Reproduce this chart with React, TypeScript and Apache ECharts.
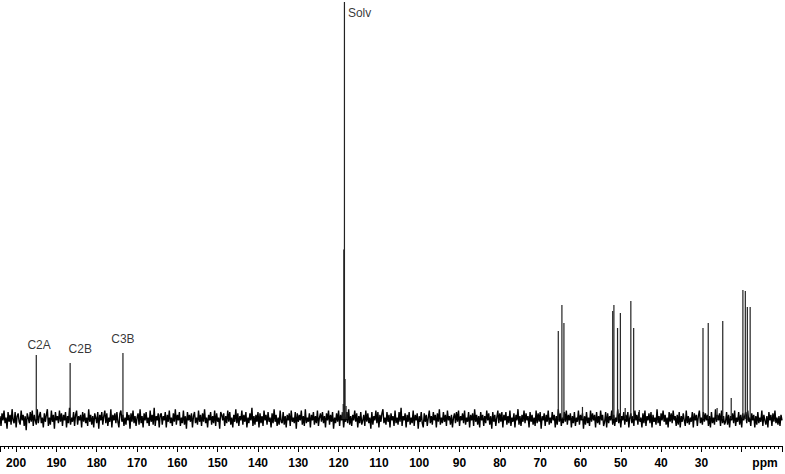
import React, { useEffect, useRef } from "react";
import * as echarts from "echarts";

// Baseline noise samples (intensity units), read along the spectrum from 204 ppm downwards
const NOISE_START_PPM = 204;
const NOISE_STEP_PPM = 0.25;
const noiseValues = [
  2,-5,4,-1,6,-3,1,-7,5,-2,3,-4,7,-1,-3,5,-6,2,4,-2,
  -4,6,-1,3,-5,2,-8,4,1,-3,5,-2,6,-5,3,-1,-4,7,-3,2,
  5,-3,1,-6,4,-2,3,7,-5,1,-4,6,-2,3,-7,5,-1,2,-3,6,
  -2,4,-5,3,-1,5,-6,2,-3,8,-4,1,-2,5,-5,3,6,-4,2,-1,
  3,-6,5,-2,4,-3,1,-5,7,-2,3,-4,2,-6,4,1,-3,5,-7,3,
  -1,5,-4,2,6,-3,4,-5,1,-2,7,-6,3,-1,4,-3,5,-2,-6,4,
  6,-2,3,-5,1,-4,5,-1,3,-7,4,-2,6,-3,2,-5,1,4,-4,7,
  -3,2,-6,4,-1,5,-3,1,-5,6,-2,3,-4,8,-5,2,-1,4,-6,3,
  4,-4,2,-1,5,-6,3,-2,6,-3,1,-5,4,-2,7,-4,3,-1,5,-5,
  1,-3,6,-4,2,-7,5,-1,3,-2,4,-6,2,5,-3,1,-4,6,-2,3,
  -5,4,-2,7,-3,1,-6,3,-1,5,-4,2,-3,6,-5,4,-2,1,-7,5,
  3,-1,4,-5,2,-3,6,-2,5,-4,1,-6,3,-2,7,-3,4,-5,2,-1,
  6,-4,3,-2,5,-6,1,-3,4,-1,8,-5,2,-4,3,-2,5,-6,4,-3,
  2,-5,6,-1,3,-4,5,-2,1,-6,4,-3,7,-2,3,-5,1,-4,6,-2,
  -3,5,-4,2,-6,3,-1,4,-5,6,-2,1,-3,5,-7,4,-2,3,-1,6,
  -4,2,-5,7,-3,1,-2,4,-6,3,-1,5,-4,2,-3,6,-5,1,4,-2,
  5,-3,2,-6,4,-1,6,-4,3,-2,5,-7,1,-3,4,-2,6,-5,3,-1,
  4,-6,1,-2,5,-3,7,-4,2,-5,3,-1,6,-2,4,-6,2,-3,5,-4,
  -1,3,-5,6,-2,4,-3,1,-7,5,-4,2,-1,6,-3,5,-6,3,-2,4,
  7,-3,1,-4,5,-2,3,-6,4,-1,2,-5,6,-3,1,-4,5,-2,8,-5,
  2,-1,4,-6,3,-2,5,-4,1,-3,6,-5,3,-1,4,-7,2,-2,5,-3,
  -6,4,-2,3,-5,1,6,-3,2,-4,5,-1,3,-6,4,-2,7,-4,1,-3,
  5,-2,3,-5,6,-1,2,-4,3,-6,1,4,-3,5,-2,6,-5,2,-1,4,
  -3,6,-4,1,-2,5,-6,3,-1,4,-5,7,-2,3,-4,2,-6,5,-1,3,
  -5,2,-3,6,-1,4,-4,2,-7,5,-2,3,-5,1,6,-3,4,-2,5,-6,
  3,-1,5,-4,2,-3,6,-5,1,-2,4,-6,3,-1,7,-4,2,-5,3,-2,
  6,-3,4,-1,2,-6,5,-2,3,-4,1,-5,6,-3,4,-2,5,-7,2,-1,
  4,-5,3,-2,6,-4,1,-3,5,-1,3,-6,2,-4,7,-2,4,-5,1,-3,
  5,-2,6,-4,3,-1,4,-6,2,-3,5,-5,1,-2,6,-4,3,-1,4,-7,
  2,-4,5,-3,1,-5,6,-2,4,-1,3,-6,5,-3,2,-4,6,-1,3,-5,
  -2,5,-6,4,-3,2,-1,6,-4,3,-5,1,-2,7,-3,4,-6,2,-1,5,
  -4,3,-2,5,-6,1,4,-3,2,-5,6,-1,3,-4,5,-2,1,-6,4,-3,
  6,-5,2,-1,4,-3,5,-6,3,-2,1,-4,7,-3,2,-5,4,-1,6,-2,
  3,-4,1,-6,5,-2,4,-3,6,-1,2,-5,3,-4,5,-6,2,-2,4,-1,
  -5,6,-3,2,-4,1,-2,5,-6,4,-1,3,-5,2,6,-3,1,-4,5,-2,
  4,-1,3,-5,2,-6,5,-3,1,-4,7,-2,3,-1,4,-5,6,-3,2,-4,
  -2,5,-4,3,-6,2,-1,4,-3,6,-5,1,-2,5,-4,3,-6,4,-1,2,
  5,-3,6,-2,1,-5,4,-1,3,-6,2,-4,5,-3,1,-2,6,-5,3,-1,
  -4,2,-6,5,-1,3,-5,4,-2,6,-3,1,-4,2,-5,3,-1,
];

// Peak positions (ppm) and heights (intensity units above the baseline)
const peakShifts = [
  195.0, 186.6, 173.5,
  119.1, 118.85, 118.7, 118.55, 118.4, 118.15, 117.9,
  65.5, 64.6, 64.1, 59.5,
  52.0, 51.7, 50.8, 50.1, 48.9, 47.5, 46.8, 45.4,
  29.6, 28.3, 26.1, 24.7, 22.6,
  19.7, 19.1, 18.6, 17.9,
];
const peakHeights = [
  45.7, 40, 47.1,
  5, 10.7, 121, 330, 28.6, 9.3, 5,
  62.9, 81.4, 68.6, 8.6,
  77.1, 81.4, 65, 75.7, 7.9, 84.3, 65, 6.4,
  65, 68.6, 7.9, 70, 15,
  92.1, 91.4, 80, 80,
];

// Peak annotations
const labelNames = ["C2A", "C2B", "C3B", "Solv"];
const labelShifts = [194.3, 184.1, 173.5, 118.55];
const labelHeights = [52.9, 50, 57.1, 290];

// Tick values whose labels are left blank (room for the unit)
const hiddenTickLabels = [10, 20];

const FONT = "'Liberation Sans', Arial, Helvetica, sans-serif";

export default function App() {
  const ref = useRef<HTMLDivElement>(null);
  useEffect(() => {
    const chart = echarts.init(ref.current!, null, { renderer: "svg" });
    const noiseData = noiseValues.map((v, i) => [NOISE_START_PPM - i * NOISE_STEP_PPM, v]);
    const peakData = peakShifts.map((p, i) => [p, peakHeights[i]]);
    const labelData = labelNames.map((n, i) => ({
      name: n,
      value: [labelShifts[i], labelHeights[i]],
      label: n === "Solv" ? { position: "right", distance: 3 } : { position: "inside" },
    }));
    chart.setOption({
      animation: false,
      backgroundColor: "#ffffff",
      grid: { left: 0, right: 2.5, top: 2, bottom: 28, containLabel: false },
      xAxis: {
        type: "value",
        inverse: true,
        min: 10,
        max: 204,
        interval: 10,
        axisLine: { onZero: false, lineStyle: { color: "#000", width: 1 } },
        axisTick: { length: 6, lineStyle: { color: "#000", width: 1 } },
        minorTick: { show: true, splitNumber: 10, length: 3, lineStyle: { color: "#000", width: 1 } },
        splitLine: { show: false },
        minorSplitLine: { show: false },
        axisLabel: {
          color: "#000",
          fontFamily: FONT,
          fontWeight: "bold",
          fontSize: 12,
          margin: 11,
          showMaxLabel: false,
          formatter: (v: number) =>
            hiddenTickLabels.includes(v) || v % 10 !== 0 ? "" : String(v),
        },
        name: "ppm",
        nameLocation: "start",
        nameGap: -17,
        nameTextStyle: {
          color: "#000",
          fontFamily: FONT,
          fontWeight: "bold",
          fontSize: 12,
          align: "center",
          verticalAlign: "top",
          padding: [11, 0, 0, 0],
        },
      },
      yAxis: { type: "value", min: -19.3, max: 297.9, show: false },
      series: [
        {
          type: "line",
          data: noiseData,
          showSymbol: false,
          symbol: "none",
          lineStyle: { color: "#000", width: 1.4 },
          z: 2,
        },
        {
          type: "bar",
          data: peakData,
          barWidth: 1.2,
          itemStyle: { color: "#222" },
          clip: true,
          z: 3,
        },
        {
          type: "scatter",
          data: labelData,
          symbolSize: 1,
          itemStyle: { color: "rgba(0,0,0,0)" },
          label: {
            show: true,
            formatter: "{b}",
            color: "#000",
            fontFamily: FONT,
            fontSize: 12,
          },
          z: 4,
        },
      ],
    });
    return () => chart.dispose();
  }, []);
  return (
    <div
      ref={ref}
      style={{ position: "fixed", left: 0, top: 0, width: 785, height: 474 }}
    />
  );
}
